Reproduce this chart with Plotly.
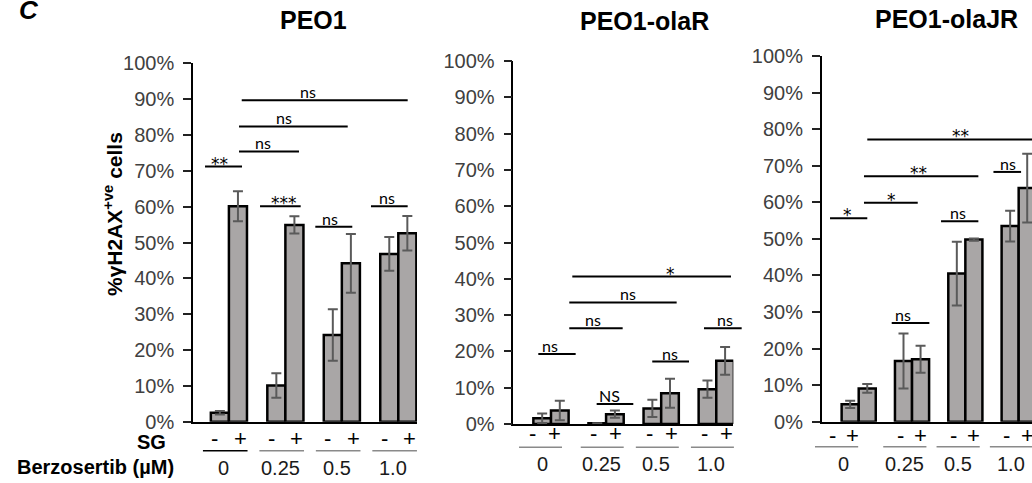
import plotly.graph_objects as go

W, H = 1032, 483

# ---------------- data ----------------
doses = ["0", "0.25", "0.5", "1.0"]
titles = ["PEO1", "PEO1-olaR", "PEO1-olaJR"]
y_ticks = [0, 10, 20, 30, 40, 50, 60, 70, 80, 90, 100]

peo1_minus = [2.5, 10.1, 24.2, 46.8]
peo1_minus_err = [0.5, 3.4, 7.2, 4.7]
peo1_plus = [60.1, 54.9, 44.2, 52.6]
peo1_plus_err = [4.2, 2.4, 8.2, 4.8]

olar_minus = [1.6, 0.2, 4.3, 9.6]
olar_minus_err = [1.3, 0.0, 2.4, 2.4]
olar_plus = [3.7, 2.7, 8.5, 17.4]
olar_plus_err = [2.7, 1.0, 4.0, 3.8]

olajr_minus = [4.75, 16.6, 40.5, 53.5]
olajr_minus_err = [1.0, 7.5, 8.7, 4.2]
olajr_plus = [9.1, 17.1, 49.8, 63.9]
olajr_plus_err = [1.2, 3.7, 0.3, 9.4]

# significance brackets: (x_start, x_end, y%, label, label_x) in category units
peo1_sig = [
    (-0.423, 0.232, 71.2, "**", -0.163),
    (0.179, 1.241, 75.4, "ns", 0.599),
    (0.179, 2.104, 82.4, "ns", 0.976),
    (0.227, 3.166, 89.7, "ns", 1.406),
    (0.551, 1.271, 60.1, "***", 0.976),
    (1.530, 2.185, 54.4, "ns", 1.790),
    (2.516, 3.166, 60.1, "ns", 2.794),
]
olar_sig = [
    (-0.230, 0.448, 19.3, "ns", -0.018),
    (0.332, 1.301, 26.4, "ns", 0.762),
    (0.332, 2.281, 33.5, "ns", 1.397),
    (0.387, 3.267, 40.6, "*", 2.172),
    (0.829, 1.494, 5.5, "NS", 1.071),
    (1.838, 2.505, 17.2, "ns", 2.160),
    (2.777, 3.461, 26.4, "ns", 3.158),
]
olajr_sig = [
    (-0.538, 0.161, 55.6, "*", -0.206),
    (0.099, 1.107, 59.9, "*", 0.619),
    (0.099, 2.244, 67.1, "**", 1.118),
    (0.161, 3.589, 77.2, "**", 1.901),
    (0.619, 1.325, 27.0, "ns", 0.831),
    (1.544, 2.244, 54.8, "ns", 1.863),
    (2.527, 3.045, 68.3, "ns", 2.801),
]

# ---------------- layout geometry (pixels) ----------------
panels = [
    dict(minus=peo1_minus, minus_err=peo1_minus_err, plus=peo1_plus, plus_err=peo1_plus_err,
         sig=peo1_sig, x0=193, x1=417, y0=421.7, y100=63.3, r=(-0.636, 3.331),
         title_x=313, title_y=20.5,
         sg_y=438.5, ul_y=450.7, lab_y=467.5, sg_m=-0.25, sg_p=0.20, lab_dx=-0.09,
         ul=(-0.46, 0.33), g1_shift=0.0),
    dict(minus=olar_minus, minus_err=olar_minus_err, plus=olar_plus, plus_err=olar_plus_err,
         sig=olar_sig, x0=513.3, x1=733.3, y0=424, y100=61, r=(-0.684, 3.309),
         title_x=644, title_y=21,
         sg_y=433.5, ul_y=447.3, lab_y=463.5, sg_m=-0.22, sg_p=0.18, lab_dx=-0.09,
         ul=(-0.46, 0.32), g1_shift=-0.12),
    dict(minus=olajr_minus, minus_err=olajr_minus_err, plus=olajr_plus, plus_err=olajr_plus_err,
         sig=olajr_sig, x0=821.7, x1=1032, y0=421.7, y100=56, r=(-0.694, 3.25),
         title_x=946, title_y=19,
         sg_y=435, ul_y=446.7, lab_y=463.5, sg_m=-0.22, sg_p=0.16, lab_dx=-0.14,
         ul=(-0.54, 0.27), g1_shift=-0.28),
]

FONT = "Arial, Liberation Sans, sans-serif"
SIGFONT = "Lato, Arial, sans-serif"
STARFONT = "DejaVu Sans, Arial, sans-serif"
BAR_FILL = "#A9A6A6"
ERR_COL = "#5A5A5A"

fig = go.Figure()
shapes = []
annotations = []


def px2paper_x(p):
    return p / W


def px2paper_y(p):
    return 1 - p / H


def data2px_x(pn, xd):
    r0, r1 = pn["r"]
    return pn["x0"] + (xd - r0) / (r1 - r0) * (pn["x1"] - pn["x0"])


def data2px_y(pn, yd):
    return pn["y0"] + (pn["y100"] - pn["y0"]) * yd / 100.0


for i, pn in enumerate(panels):
    sfx = "" if i == 0 else str(i + 1)
    xa, ya = "x" + sfx, "y" + sfx
    for vals, errs, grp in ((pn["minus"], pn["minus_err"], "m"), (pn["plus"], pn["plus_err"], "p")):
        fig.add_trace(go.Bar(
            x=doses, y=vals, xaxis=xa, yaxis=ya, offsetgroup=grp,
            marker=dict(color=BAR_FILL, line=dict(color="black", width=2.5)),
            error_y=dict(type="data", array=errs, visible=True, color=ERR_COL,
                         thickness=2, width=5),
            hoverinfo="skip", showlegend=False,
        ))

    dom = [px2paper_x(pn["x0"]), min(1.0, px2paper_x(pn["x1"]))]
    ydom = [px2paper_y(pn["y0"]), px2paper_y(pn["y100"])]
    fig.layout["xaxis" + sfx] = dict(
        domain=dom, range=list(pn["r"]), anchor=ya, showline=True, linecolor="black",
        linewidth=1.5, showticklabels=False, ticks="", showgrid=False, zeroline=False,
        type="category", categoryorder="array", categoryarray=doses, fixedrange=True,
        automargin=False)
    fig.layout["yaxis" + sfx] = dict(
        domain=ydom, range=[0, 100], anchor=xa, showline=True, linecolor="black",
        linewidth=1.5, ticks="outside", ticklen=8, tickwidth=1.5, tickcolor="#222",
        tickvals=y_ticks, ticktext=[f"{v}%" for v in y_ticks],
        tickfont=dict(family=FONT, size=20, color="#404040"),
        ticklabelstandoff=5, automargin=False,
        showgrid=False, zeroline=False, fixedrange=True)

    # panel title
    annotations.append(dict(
        x=px2paper_x(pn["title_x"]), y=px2paper_y(pn["title_y"]), xref="paper", yref="paper",
        text=f"<b>{titles[i]}</b>", showarrow=False, xanchor="center", yanchor="middle",
        font=dict(family=FONT, size=25, color="black")))

    # significance brackets
    for (sx0, sx1, sy, lab, lx) in pn["sig"]:
        ypx = data2px_y(pn, sy)
        shapes.append(dict(
            type="line", xref="paper", yref="paper",
            x0=px2paper_x(data2px_x(pn, sx0)), x1=px2paper_x(data2px_x(pn, sx1)),
            y0=px2paper_y(ypx), y1=px2paper_y(ypx),
            line=dict(color="black", width=2)))
        star = "*" in lab
        annotations.append(dict(
            x=px2paper_x(data2px_x(pn, lx)), y=px2paper_y(ypx), xref="paper", yref="paper",
            text=lab, showarrow=False, xanchor="center", yanchor="bottom",
            yshift=-9 if star else -3,
            font=dict(family=STARFONT if star else SIGFONT, size=17 if star else 16,
                      color="black")))

    # SG -/+ labels, dose underline and dose labels
    for g, d in enumerate(doses):
        shift = pn["g1_shift"] if g == 0 else 0.0
        for off, sym in ((pn["sg_m"], "-"), (pn["sg_p"], "+")):
            annotations.append(dict(
                x=px2paper_x(data2px_x(pn, g + off + shift)), y=px2paper_y(pn["sg_y"]),
                xref="paper", yref="paper", text=sym, showarrow=False,
                xanchor="center", yanchor="middle",
                font=dict(family=FONT, size=22, color="black")))
        shapes.append(dict(
            type="line", xref="paper", yref="paper",
            x0=px2paper_x(data2px_x(pn, g + pn["ul"][0] + shift)),
            x1=px2paper_x(data2px_x(pn, g + pn["ul"][1] + shift)),
            y0=px2paper_y(pn["ul_y"]), y1=px2paper_y(pn["ul_y"]),
            line=dict(color="black" if (i == 0 and g == 0) else "#8A8A8A", width=1.5)))
        annotations.append(dict(
            x=px2paper_x(data2px_x(pn, g + pn["lab_dx"] + shift * 0.5)), y=px2paper_y(pn["lab_y"]),
            xref="paper", yref="paper", text=d, showarrow=False,
            xanchor="center", yanchor="middle",
            font=dict(family=FONT, size=20, color="#1a1a1a")))

# y-axis title
annotations.append(dict(
    x=px2paper_x(113), y=px2paper_y(214), xref="paper", yref="paper",
    text="<b>%γH2AX<sup>+ve</sup> cells</b>", showarrow=False, textangle=-90,
    xanchor="center", yanchor="middle", font=dict(family=FONT, size=21, color="black")))

# row labels
annotations.append(dict(
    x=px2paper_x(168), y=px2paper_y(442), xref="paper", yref="paper",
    text="<b>SG</b>", showarrow=False, xanchor="right", yanchor="middle",
    font=dict(family=FONT, size=20, color="black")))
annotations.append(dict(
    x=px2paper_x(176), y=px2paper_y(467), xref="paper", yref="paper",
    text="<b>Berzosertib (µM)</b>", showarrow=False, xanchor="right", yanchor="middle",
    font=dict(family=FONT, size=20, color="black")))

# panel letter (its top is cut off in the reference)
annotations.append(dict(
    x=px2paper_x(29), y=px2paper_y(17), xref="paper", yref="paper",
    text="<b><i>C</i></b>", showarrow=False, xanchor="center", yanchor="bottom",
    yshift=-10, font=dict(family=FONT, size=26, color="black")))

fig.update_layout(
    width=W, height=H, autosize=False,
    margin=dict(l=0, r=0, t=0, b=0, autoexpand=False),
    paper_bgcolor="white", plot_bgcolor="white",
    barmode="group", bargap=0.36, bargroupgap=0.0,
    showlegend=False, shapes=shapes, annotations=annotations,
)

fig.write_html(
    "out.html",
    config={"displayModeBar": False},
    post_script="document.body.style.margin='0';document.body.style.overflow='hidden';",
)
